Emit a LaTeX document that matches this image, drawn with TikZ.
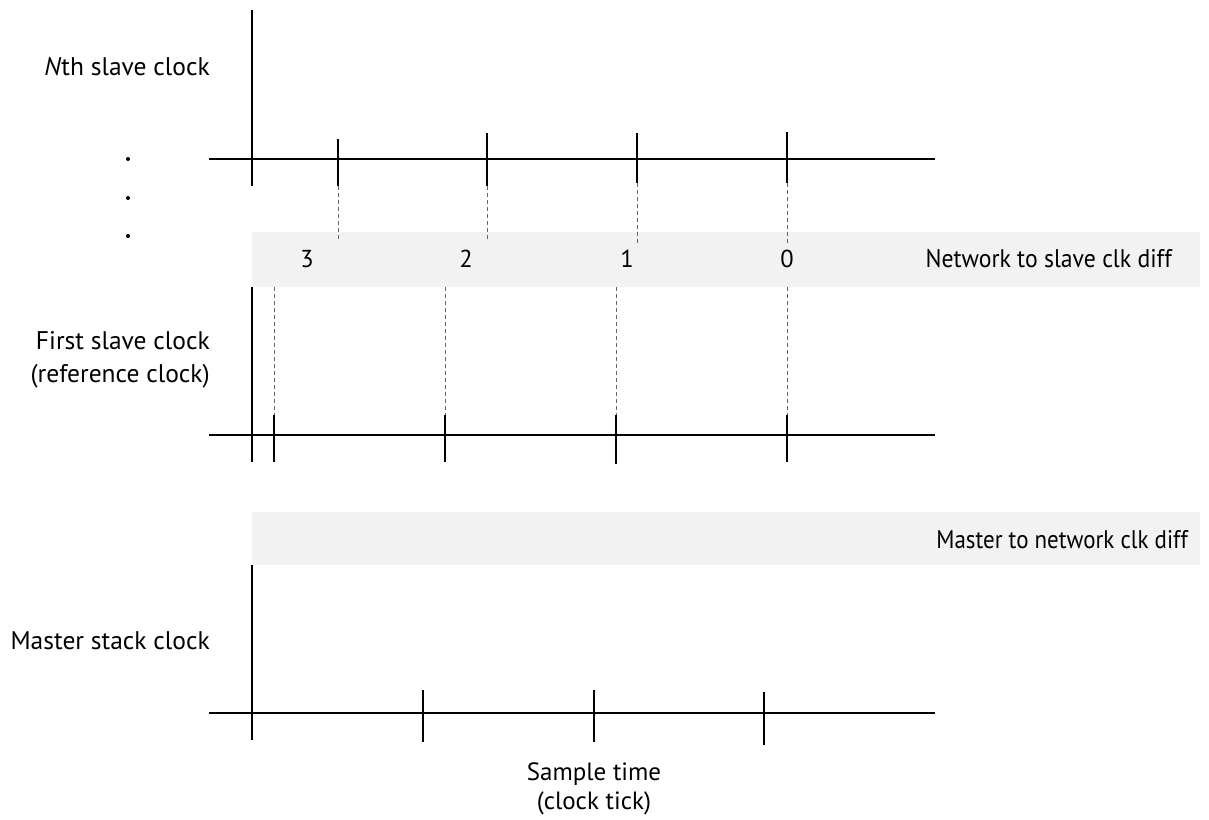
\documentclass[tikz,border=0pt]{standalone}
\usepackage{fontspec}
\setmainfont{PT Sans}
\begin{document}
\begin{tikzpicture}[x=1pt,y=-1pt,
  axis/.style={line width=1.9pt,black},
  tickmark/.style={line width=1.9pt,black},
  guide/.style={black!60,line width=1pt,dash pattern=on 4pt off 3pt},
  band/.style={fill=black!5,draw=none},
  lbl/.style={font=\fontsize{25.5}{33}\selectfont,inner sep=0pt},
  num/.style={font=\fontsize{24.5}{32}\selectfont,inner sep=0pt}]
\useasboundingbox (0,0) rectangle (1209,819);
% bands
\fill[band] (252,232) rectangle (1200,287);
\fill[band] (252,512) rectangle (1200,565);
\node[lbl,anchor=east,xscale=0.93] (bandA) at (1172,259) {Network to slave clk diff};
\node[lbl,anchor=east,xscale=0.9] (bandB) at (1188,540) {Master to network clk diff};
\node[num] (n3) at (307,259) {3};
\node[num] (n2) at (466,259) {2};
\node[num] (n1) at (627,259) {1};
\node[num] (n0) at (787,259) {0};
% labels
\node[lbl,anchor=east] (lN) at (210,67) {\textit{N}th slave clock};
\node[lbl,anchor=east,align=right] (lF) at (210,360) {First slave clock\\(reference clock)};
\node[lbl,anchor=east] (lM) at (210,641) {Master stack clock};
\node[lbl,align=center,font=\fontsize{25}{29}\selectfont] (lS) at (594,789) {Sample time\\(clock tick)};
\foreach \y in {159,198,236} \fill (128,\y) circle (2pt);
% Nth slave clock axes
\draw[axis] (252,10) -- (252,186);
\draw[axis] (209,159) -- (935,159);
\coordinate (a1) at (338,186); \coordinate (a2) at (487,186);
\coordinate (a3) at (637,183); \coordinate (a4) at (787,183);
\draw[tickmark] (338,139) -- (a1);
\draw[tickmark] (487,133) -- (a2);
\draw[tickmark] (637,133) -- (a3);
\draw[tickmark] (787,132) -- (a4);
\coordinate (b1) at (338,241); \coordinate (b2) at (487,241);
\coordinate (b3) at (637,245); \coordinate (b4) at (787,245);
\draw[guide] (a1) -- (b1);
\draw[guide] (a2) -- (b2);
\draw[guide] (a3) -- (b3);
\draw[guide] (a4) -- (b4);
% First slave clock axes
\draw[axis] (252,287) -- (252,462);
\draw[axis] (209,435) -- (935,435);
\coordinate (c1) at (274,415); \coordinate (c2) at (445,415);
\coordinate (c3) at (616,415); \coordinate (c4) at (787,415);
\draw[tickmark] (c1) -- (274,462);
\draw[tickmark] (c2) -- (445,462);
\draw[tickmark] (c3) -- (616,464);
\draw[tickmark] (c4) -- (787,462);
\coordinate (d1) at (274,287); \coordinate (d2) at (445,287);
\coordinate (d3) at (616,287); \coordinate (d4) at (787,287);
\draw[guide] (d1) -- (c1);
\draw[guide] (d2) -- (c2);
\draw[guide] (d3) -- (c3);
\draw[guide] (d4) -- (c4);
% Master stack clock axes
\draw[axis] (252,565) -- (252,740);
\draw[axis] (209,713) -- (935,713);
\draw[tickmark] (423,690) -- (423,742);
\draw[tickmark] (594,690) -- (594,742);
\draw[tickmark] (764,692) -- (764,745);
\end{tikzpicture}
\end{document}
